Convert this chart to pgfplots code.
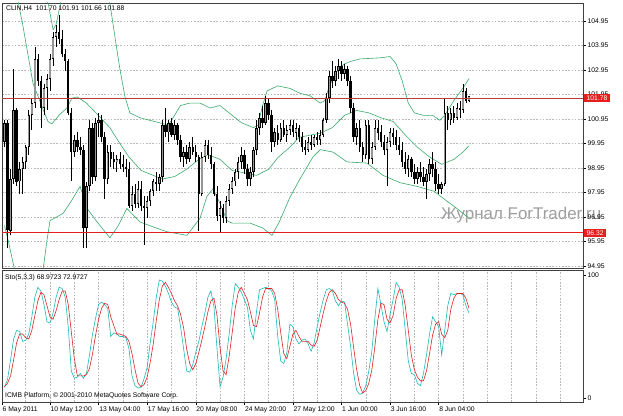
\documentclass[border=0pt]{standalone}
\usepackage{fontspec}
\setmainfont{Liberation Sans}
\usepackage{pgfplots}
\usepackage{pgfplotstable}
\pgfplotsset{compat=1.18}

\definecolor{bandgreen}{RGB}{60,170,110}
\definecolor{stocyan}{RGB}{30,185,185}
\definecolor{stored}{RGB}{225,35,35}
\definecolor{bullgray}{RGB}{150,150,150}
\definecolor{gridgray}{RGB}{185,185,185}
\definecolor{resred}{RGB}{185,60,60}
\definecolor{supred}{RGB}{230,30,30}

% CL H4 candles: bar index, open, high, low, close
\pgfplotstableread{
i o h l c
0 100.0 100.9 99.8 100.8
1 100.8 100.9 95.7 96.4
2 96.4 98.9 96.2 98.5
3 98.5 103.0 98.3 101.3
4 101.3 101.4 98.2 98.4
5 98.4 99.2 97.9 98.9
6 98.9 99.4 97.9 99.2
7 99.2 99.9 98.9 99.8
8 99.8 101.3 99.5 101.1
9 101.1 101.8 100.5 101.6
10 101.6 103.9 101.4 103.4
11 103.4 103.6 102.3 102.5
12 102.5 102.7 100.6 101.4
13 101.4 102.4 101.1 102.2
14 102.2 102.8 101.3 102.6
15 102.6 103.6 102.1 103.4
16 103.4 104.5 103.1 104.3
17 104.3 104.8 103.9 104.5
18 104.5 105.2 104.0 104.2
19 104.2 104.6 103.5 103.6
20 103.6 103.8 102.9 103.3
21 103.3 103.4 101.1 101.2
22 101.2 101.4 98.4 99.6
23 99.6 100.3 99.4 100.1
24 100.1 100.4 99.6 99.8
25 99.8 100.2 99.5 99.7
26 99.7 99.9 95.7 96.5
27 96.5 98.4 95.7 98.2
28 98.2 100.9 98.0 100.6
29 100.6 100.8 98.3 98.6
30 98.6 101.0 98.4 100.8
31 100.8 101.2 100.2 100.9
32 100.9 101.1 100.0 100.2
33 100.2 100.4 97.7 98.5
34 98.5 99.9 98.3 99.6
35 99.6 99.9 99.0 99.3
36 99.3 99.6 98.9 99.2
37 99.2 99.5 98.8 99.3
38 99.3 99.6 98.9 99.1
39 99.1 99.5 98.8 99.0
40 99.0 99.3 98.6 98.9
41 98.9 99.2 97.3 97.4
42 97.4 98.2 97.2 97.9
43 97.9 98.3 97.3 97.5
44 97.5 98.4 97.3 98.1
45 98.1 98.4 97.2 97.4
46 97.4 97.8 95.8 97.3
47 97.3 97.8 96.9 97.6
48 97.6 98.1 97.4 98.0
49 98.0 98.5 97.8 98.4
50 98.4 98.8 98.0 98.3
51 98.3 98.7 98.0 98.6
52 98.6 100.9 98.4 100.7
53 100.7 101.4 100.2 100.4
54 100.4 100.9 100.0 100.8
55 100.8 101.0 100.2 100.3
56 100.3 100.9 100.1 100.7
57 100.7 100.8 99.9 100.1
58 100.1 100.3 99.2 99.4
59 99.4 99.8 99.0 99.6
60 99.6 99.9 99.1 99.3
61 99.3 100.0 99.2 99.8
62 99.8 100.2 99.5 99.6
63 99.6 99.9 99.2 99.4
64 99.4 99.5 96.4 97.9
65 97.9 99.6 97.8 99.4
66 99.4 100.1 99.2 99.9
67 99.9 100.1 99.3 99.5
68 99.5 99.8 98.9 99.1
69 99.1 99.2 97.8 97.9
70 97.9 98.2 96.8 97.0
71 97.0 97.6 96.35 97.3
72 97.3 97.5 96.7 96.9
73 96.9 97.8 96.7 97.6
74 97.6 98.3 97.4 98.1
75 98.1 98.6 97.9 98.4
76 98.4 98.9 98.2 98.8
77 98.8 99.4 98.5 99.2
78 99.2 99.8 98.9 99.5
79 99.5 99.7 98.7 98.9
80 98.9 99.1 98.2 98.5
81 98.5 99.0 98.2 98.8
82 98.8 99.8 98.6 99.7
83 99.7 100.9 99.5 100.6
84 100.6 101.2 100.3 101.0
85 101.0 101.5 100.6 100.8
86 100.8 101.9 100.7 101.6
87 101.6 101.8 100.9 101.1
88 101.1 101.3 99.6 100.0
89 100.0 100.6 99.8 100.4
90 100.4 100.7 99.9 100.1
91 100.1 100.8 100.0 100.6
92 100.6 100.9 100.2 100.3
93 100.3 100.7 100.0 100.5
94 100.5 100.9 100.3 100.7
95 100.7 100.9 100.2 100.4
96 100.4 100.8 100.1 100.6
97 100.6 100.7 100.0 100.2
98 100.2 100.4 99.6 99.8
99 99.8 100.1 99.5 99.7
100 99.7 100.2 99.6 100.0
101 100.0 100.3 99.7 99.9
102 99.9 100.3 99.8 100.2
103 100.2 100.4 99.9 100.1
104 100.1 100.5 99.9 100.3
105 100.3 101.0 100.2 100.9
106 100.9 102.0 100.8 101.8
107 101.8 102.9 101.6 102.7
108 102.7 103.3 102.2 102.5
109 102.5 103.1 102.3 102.9
110 102.9 103.4 102.6 103.1
111 103.1 103.3 102.5 102.8
112 102.8 103.2 102.6 103.0
113 103.0 103.1 102.3 102.5
114 102.5 102.7 101.2 101.4
115 101.4 101.6 100.0 100.2
116 100.2 100.8 99.9 100.6
117 100.6 100.9 99.6 99.8
118 99.8 100.0 99.2 99.5
119 99.5 100.9 99.3 100.7
120 100.7 100.9 99.1 99.3
121 99.3 100.0 99.1 99.8
122 99.8 100.9 99.7 100.6
123 100.6 100.9 100.1 100.4
124 100.4 100.7 99.8 100.0
125 100.0 100.3 99.5 99.7
126 99.7 100.2 98.2 100.0
127 100.0 100.6 99.8 100.4
128 100.4 100.6 99.9 100.2
129 100.2 100.5 99.7 99.9
130 99.9 100.2 99.5 99.7
131 99.7 100.0 99.0 99.2
132 99.2 99.6 98.7 98.9
133 98.9 99.5 98.6 99.3
134 99.3 99.4 98.6 98.8
135 98.8 99.1 98.3 98.5
136 98.5 99.0 98.3 98.8
137 98.8 99.2 98.4 98.6
138 98.6 99.0 98.2 98.4
139 98.4 98.9 97.7 98.7
140 98.7 99.3 98.4 99.1
141 99.1 99.6 98.6 98.9
142 98.9 99.2 98.0 98.3
143 98.3 98.7 97.9 98.1
144 98.1 98.4 97.9 98.3
145 98.3 101.8 98.2 101.2
146 101.2 101.5 100.5 100.9
147 100.9 101.4 100.7 101.2
148 101.2 101.5 100.8 101.0
149 101.0 101.6 100.9 101.4
150 101.4 101.7 101.0 101.3
151 101.3 102.4 101.2 102.1
152 102.1 102.2 101.6 101.7
153 101.70 101.91 101.66 101.88
}\candles

% Stochastic (5,3,3): main k, signal d
\pgfplotstableread{
i k d
0 9 9
1 15 12
2 31 18
3 48 31
4 55 45
5 54 52
6 46 52
7 47 49
8 52 48
9 66 55
10 82 67
11 90 79
12 87 86
13 76 84
14 62 75
15 61 66
16 69 64
17 82 71
18 90 80
19 89 87
20 82 87
21 58 76
22 22 54
23 16 32
24 17 18
25 20 18
26 16 18
27 20 19
28 35 24
29 52 36
30 65 51
31 76 64
32 78 73
33 76 77
34 73 76
35 50 66
36 53 59
37 52 52
38 50 52
39 50 51
40 49 50
41 40 46
42 18 36
43 10 23
44 8 12
45 9 9
46 16 11
47 25 17
48 45 29
49 62 44
50 82 63
51 96 80
52 95 91
53 91 94
54 85 90
55 78 85
56 74 79
57 73 75
58 58 68
59 40 57
60 22 40
61 21 28
62 27 23
63 37 28
64 46 37
65 58 47
66 69 58
67 82 70
68 87 79
69 74 81
70 40 67
71 9 41
72 17 22
73 32 19
74 52 34
75 75 53
76 93 73
77 90 86
78 86 90
79 80 85
80 74 80
81 55 70
82 48 59
83 70 58
84 88 69
85 89 82
86 90 89
87 89 89
88 87 89
89 80 85
90 50 72
91 30 53
92 28 36
93 37 32
94 60 42
95 58 52
96 48 55
97 44 50
98 47 46
99 48 46
100 44 46
101 38 43
102 45 42
103 58 47
104 70 58
105 80 69
106 88 79
107 89 86
108 87 88
109 79 85
110 75 80
111 79 78
112 78 77
113 60 72
114 42 60
115 20 41
116 6 23
117 3 10
118 4 4
119 10 6
120 22 12
121 38 23
122 65 42
123 89 64
124 76 77
125 62 76
126 54 64
127 68 61
128 80 67
129 94 81
130 90 88
131 80 88
132 55 75
133 30 55
134 20 35
135 19 23
136 12 17
137 10 14
138 20 14
139 35 22
140 52 36
141 66 51
142 62 60
143 58 62
144 35 52
145 55 49
146 75 55
147 85 72
148 84 81
149 85 85
150 85 85
151 84 85
152 75 81
153 69 73
}\stoch

\pgfplotsset{
  mtpanel/.style={
    scale only axis, width=581bp,
    xmin=-0.82, xmax=190.55,
    axis line style={black!75, line width=0.8bp},
    minor xtick={7,15,...,183},
    xminorgrids=true,
    minor tick length=0pt,
    major tick length=3bp,
    tick align=outside,
    ytick pos=right, yticklabel pos=right,
    major grid style={gridgray, dash pattern=on 1.6bp off 1.6bp, line width=0.5bp},
    minor grid style={gridgray, dash pattern=on 1.6bp off 1.6bp, line width=0.5bp},
    tick style={black, line width=0.5bp},
    ticklabel style={font=\fontsize{6.8}{8}\selectfont, inner sep=1.5bp},
  },
  candle/.style={draw=none, mark=none, forget plot,
    error bars/.cd, y dir=both, y explicit, error mark=none},
}

\begin{document}
\begin{tikzpicture}
\useasboundingbox (0,0) rectangle (623bp,416bp);
\fill[white] (0,0) rectangle (623bp,416bp);
\node[anchor=base west, inner sep=0pt, text=black!38,
  font=\fontsize{17}{17}\selectfont] at (441bp,196bp) {Журнал ForTrader.ru};

% price panel
\begin{axis}[mtpanel, at={(2bp,148bp)}, anchor=south west, height=265bp,
  ymin=94.869, ymax=105.685,
  ytick={94.95,95.95,96.95,97.95,98.95,99.95,100.95,101.95,102.95,103.95,104.95},
  yticklabels={94.95,95.95,96.95,97.95,98.95,99.95,100.95,101.95,102.95,103.95,104.95},
  ymajorgrids=true,
  xtick=\empty,
]
\addplot[bandgreen, line width=0.6bp] coordinates {
  (0,112) (10,108) (13,106.2) (14.5,105.6) (16,104.6) (17,104.8) (19,106)
  (25,107.5) (32,106.5) (34.7,105.7) (36.5,104.2) (38,103.0) (39.7,101.85)
  (41.3,101.2) (44.6,101.0) (51,100.8) (54,100.7) (56,101.1) (58,101.5)
  (61,101.6) (64.4,101.6) (67.7,101.4) (71,101.5) (74,101.2) (78,100.8)
  (82,100.6) (83.5,100.7) (85,101.5) (86.5,102.1) (90,102.3) (94,102.2)
  (97.3,102.0) (100.6,101.9) (104,101.6) (105.5,101.7) (107,102.3) (110,103.0)
  (112,103.2) (114,103.3) (117,103.4) (124,103.45) (127,103.5) (129,103.2)
  (131,102.5) (133,101.6) (135,101.2) (138,101.1) (141,101.1) (143.4,100.9)
  (145,101.1) (148,101.7) (151.5,102.3) (153,102.6)};
\addplot[bandgreen, line width=0.6bp] coordinates {
  (0,109) (2,107.5) (4.4,105.8) (6,104.8) (9.4,102.4) (12.7,101.35)
  (14.3,100.85) (15.6,100.75) (18.3,101.15) (20.6,101.4) (22.2,101.8)
  (24,101.85) (27,101.6) (30.5,101.15) (34.7,100.6) (38,99.95) (41,99.4)
  (45,98.85) (48,98.7) (52,98.5) (56,98.6) (60,98.9) (64,99.3) (67,99.5)
  (71,99.3) (75,98.85) (79,98.75) (83,98.65) (87,98.9) (90,99.37) (94,99.8)
  (97,100.2) (101,100.3) (104,100.37) (108,100.6) (112,101.1) (116,101.3)
  (120,101.2) (124,101.0) (128,100.85) (132,100.3) (136,99.8) (140,99.4)
  (144,99.1) (148,99.3) (151,99.6) (153,99.86)};
\addplot[bandgreen, line width=0.6bp] coordinates {
  (0,96.6) (1.2,96.0) (3.5,94.7) (10,93.5) (12.7,94.8) (14,96.0) (15,96.8)
  (19.3,97.1) (22,97.6) (24.9,98.2) (27.2,97.3) (30.5,96.75) (34.7,96.1)
  (37.5,96.6) (40.3,97.3) (44.6,96.75) (50,96.5) (53.5,96.35) (60.1,96.2)
  (64.4,96.9) (66.7,97.8) (68.7,98.1) (71,97.5) (73.3,96.8) (75,96.7)
  (80.9,96.7) (85.1,96.5) (88.1,96.2) (90.7,96.8) (94,97.75) (97.3,98.5)
  (101.6,99.4) (104,99.7) (108.2,99.6) (112.8,99.2) (119.4,99.15)
  (124.7,98.65) (130.3,98.35) (135.9,98.2) (141.5,98.0) (145.7,97.6)
  (149,97.3) (153,96.9)};
% wicks
\addplot[candle, error bar style={draw=black, line width=0.7bp}]
  table[x=i, y expr={(\thisrow{h}+\thisrow{l})/2},
        y error expr={(\thisrow{h}-\thisrow{l})/2}] {\candles};
% bodies
\addplot[candle, error bar style={draw=black, line width=2.4bp}]
  table[x=i, y expr={(\thisrow{o}+\thisrow{c})/2},
        y error expr={max(abs(\thisrow{c}-\thisrow{o})/2,0.03)}] {\candles};
\addplot[candle, error bar style={draw=bullgray, line width=1.4bp}]
  table[x=i, y expr={\thisrow{c}>\thisrow{o} ? (\thisrow{o}+\thisrow{c})/2 : 200},
        y error expr={max(abs(\thisrow{c}-\thisrow{o})/2-0.04,0.01)}] {\candles};
\addplot[resred, line width=0.7bp] coordinates {(-1,101.78) (191,101.78)};
\addplot[supred, line width=0.7bp] coordinates {(-1,96.32) (191,96.32)};
\node[anchor=north west, inner sep=0pt, font=\fontsize{6.8}{8}\selectfont]
  at (rel axis cs:0,1) [xshift=4bp, yshift=-3bp] {CLIN,H4\ \ 101.70 101.91 101.66 101.88};
\end{axis}

% stochastic panel
\begin{axis}[mtpanel, at={(2bp,14bp)}, anchor=south west, height=132bp,
  ymin=-3.25, ymax=104.07,
  ytick={0,100}, yticklabels={0,100},
  xtick={-0.82,15,31,47,63,79,95,111,127,143},
  xticklabels={6 May 2011,10 May 12:00,13 May 04:00,17 May 16:00,20 May 08:00,
    24 May 20:00,27 May 12:00,1 Jun 00:00,3 Jun 16:00,8 Jun 04:00},
  xtick pos=left,
  xticklabel style={anchor=north west, xshift=-1bp},
]
\addplot[stocyan, line width=0.6bp] table[x=i, y=k] {\stoch};
\addplot[stored, line width=0.6bp] table[x=i, y=d] {\stoch};
\node[anchor=north west, inner sep=0pt, font=\fontsize{6.8}{8}\selectfont]
  at (rel axis cs:0,1) [xshift=3bp, yshift=-4bp] {Sto(5,3,3) 68.9723 72.9727};
\node[anchor=south west, inner sep=0pt, font=\fontsize{6.8}{8}\selectfont]
  at (rel axis cs:0,0) [xshift=3bp, yshift=3bp] {ICMB Platform, © 2001-2010 MetaQuotes Software Corp.};
\end{axis}

\node[fill=supred, text=white, anchor=west, inner xsep=2.5bp, inner ysep=1.5bp,
  font=\fontsize{6.8}{8}\selectfont] at (584bp,318bp) {101.78};
\node[fill=supred, text=white, anchor=west, inner xsep=2.5bp, inner ysep=1.5bp,
  font=\fontsize{6.8}{8}\selectfont] at (584bp,183bp) {96.32};
\end{tikzpicture}
\end{document}
